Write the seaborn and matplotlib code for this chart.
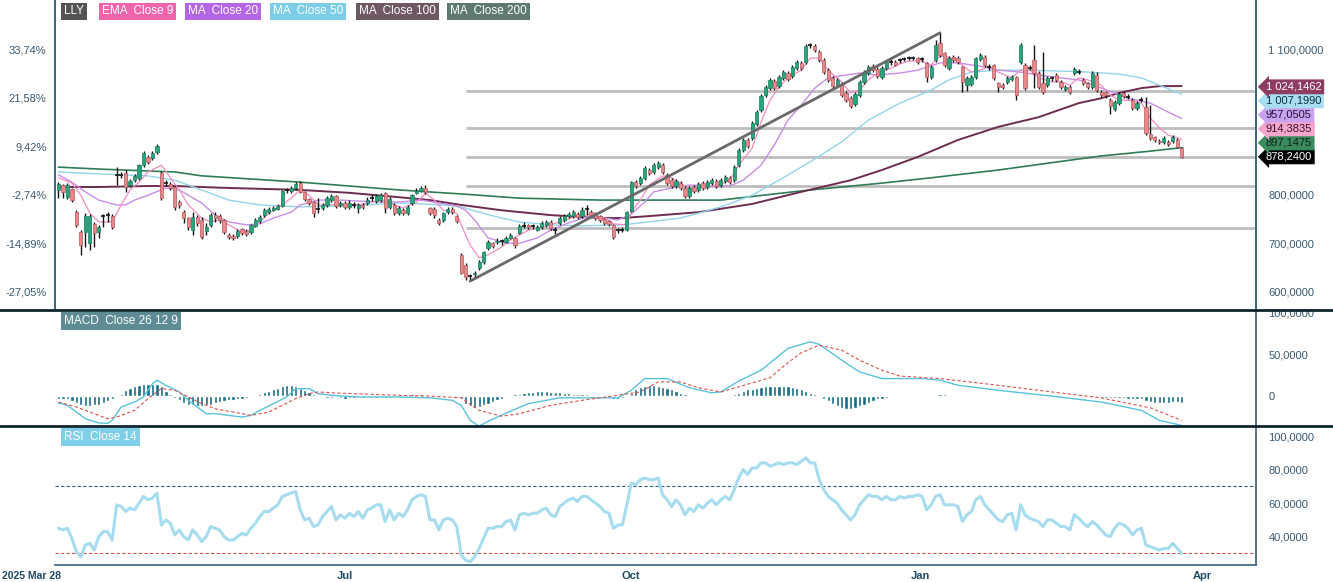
import numpy as np
import matplotlib
matplotlib.use('Agg')
import matplotlib.pyplot as plt
import seaborn as sns
from matplotlib.lines import Line2D

sns.set_theme(style='white')
plt.rcParams['font.family'] = ['Liberation Sans', 'DejaVu Sans']

# ---- daily candles, LLY (one entry per trading day) ----
opens = [809, 820, 796, 812, 764, 723, 723, 701, 740, 723, 755, 758, 756, 840, 841, 845, 820, 830, 834, 861,
         878, 876, 888, 845, 824, 822, 816, 785, 764, 752, 727, 754, 748, 725, 737, 758, 756, 748, 717, 715,
         715, 729, 725, 723, 736, 746, 758, 764, 769, 771, 777, 809, 808, 814, 824, 806, 791, 785, 771, 773,
         779, 789, 797, 779, 783, 775, 778, 773, 779, 783, 793, 787, 789, 803, 775, 779, 762, 768, 762, 783,
         804, 808, 814, 773, 771, 748, 748, 764, 771, 756, 676, 655, 631, 636, 649, 661, 690, 700, 703, 703,
         703, 711, 711, 721, 735, 737, 734, 727, 733, 737, 744, 728, 742, 748, 756, 756, 760, 756, 769, 764,
         762, 756, 750, 746, 738, 726, 727, 727, 766, 826, 824, 835, 851, 847, 857, 861, 841, 830, 818, 824,
         814, 797, 816, 810, 824, 816, 824, 828, 820, 828, 834, 830, 861, 892, 913, 917, 946, 975, 1006, 1020,
         1035, 1024, 1041, 1051, 1045, 1061, 1072, 1074, 1109, 1107, 1094, 1078, 1057, 1041, 1024, 1028, 1010, 999, 987, 1006,
         1033, 1051, 1065, 1060, 1043, 1061, 1073, 1074, 1077, 1079, 1082, 1081, 1082, 1079, 1072, 1043, 1078, 1113, 1092, 1061,
         1084, 1082, 1063, 1026, 1028, 1043, 1080, 1084, 1064, 1068, 1030, 1026, 1033, 1039, 1043, 1074, 1068, 1062, 1078, 1051,
         1030, 1026, 1039, 1047, 1033, 1018, 1022, 1051, 1053, 1037, 1030, 1022, 1047, 1012, 1012, 995, 977, 989, 1010, 1002,
         995, 979, 995, 981, 925, 919, 911, 909, 909, 911, 913, 896]
highs = [826, 822, 824, 814, 768, 727, 762, 760, 744, 737, 761, 764, 760, 857, 846, 851, 832, 842, 864, 890,
         882, 890, 904, 849, 830, 826, 818, 789, 768, 754, 764, 758, 754, 742, 762, 764, 760, 750, 721, 719,
         729, 731, 729, 740, 752, 758, 772, 775, 777, 781, 810, 814, 818, 826, 828, 808, 793, 787, 793, 783,
         797, 801, 799, 787, 787, 789, 785, 783, 783, 795, 801, 801, 803, 806, 795, 783, 777, 773, 779, 801,
         814, 818, 820, 775, 775, 752, 764, 775, 775, 758, 680, 660, 636, 642, 665, 684, 706, 702, 711, 709,
         715, 721, 713, 740, 744, 740, 740, 737, 746, 748, 748, 733, 756, 760, 764, 768, 764, 775, 779, 768,
         764, 758, 752, 748, 740, 731, 733, 766, 828, 830, 839, 859, 855, 865, 870, 865, 845, 834, 832, 828,
         818, 818, 820, 826, 828, 830, 834, 832, 834, 840, 838, 861, 896, 917, 917, 952, 975, 1008, 1026, 1041,
         1039, 1047, 1057, 1055, 1067, 1078, 1076, 1111, 1113, 1110, 1098, 1082, 1061, 1045, 1041, 1032, 1014, 1003, 1012, 1037,
         1057, 1067, 1069, 1064, 1065, 1078, 1080, 1078, 1082, 1084, 1086, 1086, 1084, 1084, 1074, 1068, 1119, 1134, 1094, 1086,
         1088, 1086, 1065, 1045, 1047, 1084, 1092, 1088, 1070, 1070, 1033, 1030, 1045, 1047, 1045, 1113, 1072, 1068, 1109, 1055,
         1094, 1045, 1045, 1051, 1037, 1026, 1026, 1063, 1059, 1041, 1033, 1055, 1053, 1016, 1014, 999, 995, 1012, 1014, 1008,
         999, 993, 1001, 1002, 985, 921, 915, 921, 913, 923, 917, 899]
lows = [793, 793, 792, 785, 733, 676, 692, 686, 692, 711, 733, 744, 729, 820, 835, 806, 815, 826, 830, 858,
        864, 872, 884, 789, 818, 810, 768, 773, 742, 727, 717, 736, 709, 717, 733, 744, 742, 719, 709, 707,
        711, 717, 715, 719, 733, 742, 754, 760, 766, 768, 775, 804, 804, 810, 803, 787, 779, 754, 762, 768,
        775, 785, 773, 775, 771, 771, 773, 762, 771, 779, 787, 783, 785, 762, 771, 758, 758, 758, 758, 779,
        801, 806, 801, 758, 752, 738, 744, 760, 760, 742, 636, 624, 622, 630, 645, 657, 686, 690, 698, 696,
        700, 709, 690, 719, 731, 729, 729, 725, 729, 733, 727, 719, 738, 744, 752, 752, 750, 752, 758, 754,
        748, 744, 738, 736, 709, 721, 723, 725, 764, 814, 820, 831, 841, 843, 853, 843, 820, 814, 814, 810,
        793, 793, 804, 806, 810, 812, 820, 814, 816, 824, 822, 826, 857, 888, 896, 913, 942, 971, 1002, 1016,
        1016, 1020, 1037, 1035, 1041, 1057, 1057, 1070, 1102, 1094, 1074, 1049, 1033, 1020, 1020, 1002, 991, 979, 983, 1002,
        1029, 1047, 1053, 1041, 1039, 1057, 1068, 1065, 1072, 1076, 1078, 1078, 1070, 1074, 1033, 1039, 1074, 1084, 1063, 1057,
        1074, 1070, 1012, 1014, 1024, 1039, 1076, 1063, 1057, 1037, 1012, 1018, 1028, 1035, 995, 1070, 1016, 1057, 1020, 1018,
        1008, 1022, 1035, 1033, 1018, 1014, 1008, 1047, 1049, 1026, 1018, 1018, 1012, 1002, 999, 966, 973, 985, 1000, 997,
        975, 975, 991, 923, 913, 908, 905, 905, 901, 907, 896, 875]
closes = [822.5, 806, 820, 789, 737, 696, 756, 756, 721, 733, 756, 759, 733, 841, 840, 816, 828, 838, 861, 886,
          868, 886, 901, 793, 825, 814, 775, 779, 752, 733, 754, 742, 713, 733, 758, 752, 748, 723, 713, 711,
          725, 721, 719, 738, 748, 754, 768, 771, 773, 777, 808, 810, 814, 822, 806, 791, 783, 762, 770, 779,
          793, 797, 777, 783, 775, 783, 779, 779, 775, 789, 794, 797, 799, 773, 791, 762, 773, 762, 775, 799,
          808, 814, 806, 762, 758, 742, 762, 771, 764, 746, 639, 630, 632, 638, 661, 682, 702, 694, 705, 704,
          711, 717, 696, 735, 736, 733, 735, 733, 742, 744, 731, 727, 752, 756, 760, 764, 754, 769, 770, 758,
          752, 748, 742, 740, 713, 727, 728, 764, 826, 818, 835, 855, 845, 861, 865, 847, 824, 818, 828, 814,
          797, 814, 808, 822, 814, 826, 830, 818, 830, 836, 826, 857, 892, 913, 900, 948, 971, 1004, 1022, 1037,
          1020, 1043, 1053, 1039, 1063, 1074, 1061, 1107, 1108, 1098, 1078, 1053, 1037, 1024, 1037, 1006, 995, 983, 1008, 1033,
          1053, 1063, 1057, 1045, 1061, 1074, 1074, 1068, 1078, 1080, 1082, 1082, 1074, 1080, 1043, 1063, 1109, 1088, 1068, 1082,
          1078, 1074, 1033, 1041, 1043, 1082, 1088, 1068, 1063, 1041, 1022, 1022, 1041, 1043, 1006, 1109, 1020, 1061, 1051, 1022,
          1012, 1041, 1040, 1037, 1022, 1022, 1012, 1059, 1053, 1030, 1022, 1051, 1016, 1006, 1006, 983, 991, 1008, 1004, 1001,
          979, 989, 996, 927, 917, 913, 909, 917, 905, 919, 898, 878.24]

# ---- moving averages (candle index, value) ----
ema9_x = [0, 3, 5, 7, 9, 12, 14, 16, 18, 20, 23, 25, 27, 29, 32, 34, 36, 38, 41, 43, 45, 47, 49, 52, 54, 56, 58,
          61, 64, 67, 71, 73, 75, 77, 80, 82, 84, 86, 89, 90, 92, 94, 96, 99, 101, 103, 105, 109, 112, 115, 119,
          122, 124, 127, 128, 130, 132, 135, 137, 139, 141, 143, 146, 148, 150, 152, 155, 157, 159, 161, 163, 166,
          168, 170, 172, 175, 177, 179, 181, 183, 186, 188, 190, 193, 195, 197, 199, 201, 204, 206, 208, 210, 213,
          215, 217, 219, 222, 224, 226, 228, 230, 233, 235, 237, 239, 242, 244, 246, 248, 251]
ema9_y = [835, 824, 799, 762, 744, 744, 779, 810, 826, 847, 861, 835, 810, 779, 752, 744, 748, 738, 723, 727, 744,
          762, 773, 793, 810, 799, 779, 779, 779, 779, 787, 789, 779, 773, 785, 803, 789, 768, 762, 738, 696, 670,
          676, 692, 707, 717, 727, 736, 744, 754, 760, 752, 740, 738, 764, 789, 820, 839, 835, 824, 812, 814, 818,
          822, 830, 861, 896, 950, 995, 1022, 1041, 1057, 1082, 1082, 1057, 1033, 1010, 1016, 1037, 1051, 1061,
          1070, 1076, 1076, 1068, 1086, 1084, 1074, 1053, 1057, 1065, 1053, 1041, 1057, 1057, 1041, 1033, 1033,
          1026, 1041, 1037, 1026, 1006, 995, 995, 989, 958, 938, 923, 914.3835]
ma20_x = [0, 3, 6, 9, 13, 15, 17, 20, 24, 27, 29, 32, 35, 38, 42, 45, 48, 52, 54, 58, 63, 67, 72, 76, 81, 85, 89,
          91, 93, 96, 100, 103, 107, 110, 114, 118, 122, 125, 128, 131, 133, 137, 141, 146, 150, 153, 157, 160,
          163, 166, 169, 172, 176, 179, 183, 188, 192, 197, 201, 206, 210, 215, 219, 224, 228, 233, 236, 239, 244,
          247, 251]
ma20_y = [841, 826, 806, 789, 779, 779, 789, 799, 814, 810, 799, 783, 758, 744, 738, 740, 752, 764, 779, 789, 789,
          787, 785, 785, 789, 783, 777, 768, 748, 711, 700, 700, 711, 727, 742, 754, 752, 748, 760, 785, 806, 814,
          820, 818, 818, 830, 861, 903, 954, 985, 1020, 1041, 1047, 1051, 1047, 1051, 1057, 1072, 1072, 1065,
          1057, 1053, 1047, 1041, 1037, 1020, 1010, 999, 989, 975, 957.0505]
ma50_x = [0, 9, 20, 26, 32, 38, 45, 54, 65, 76, 86, 90, 94, 99, 103, 110, 117, 126, 132, 139, 143, 148, 155, 161,
          168, 175, 181, 188, 195, 199, 204, 210, 217, 224, 230, 237, 242, 246, 251]
ma50_y = [847, 843, 839, 830, 810, 789, 779, 775, 777, 783, 779, 775, 764, 752, 744, 738, 736, 738, 744, 752, 762,
          775, 799, 830, 868, 909, 954, 989, 1016, 1037, 1053, 1057, 1057, 1055, 1053, 1049, 1041, 1026, 1007.199]
ma100_x = [0, 9, 20, 26, 38, 54, 65, 76, 83, 90, 99, 110, 121, 126, 132, 143, 155, 166, 177, 184, 192, 201, 210,
           219, 228, 233, 237, 242, 246, 251]
ma100_y = [816, 816, 818, 818, 814, 810, 804, 795, 789, 779, 768, 758, 752, 752, 756, 764, 781, 806, 830, 851, 878,
           913, 940, 960, 989, 999, 1010, 1020, 1024, 1024.1462]
ma200_x = [0, 9, 26, 32, 54, 76, 91, 103, 121, 148, 166, 184, 195, 210, 221, 233, 244, 251]
ma200_y = [857, 853, 847, 839, 826, 810, 801, 793, 789, 789, 808, 824, 835, 851, 865, 880, 890, 897.1475]

# ---- MACD 26 12 9 ----
macd_hist = [-3, -3, -4, -6, -8, -10, -12, -12, -11, -10, -8, -6, -4, -1, 3, 7, 10, 12, 13, 14, 15, 15, 14,
             12, 6, 2, -2, -5, -8, -10, -11, -12, -12, -11, -10, -8, -7, -6, -5, -5, -4, -3, -2, -1,
             1, 3, 5, 6, 8, 10, 12, 13, 13, 12, 10, 7, 5, 3, 1,
             -1, -2, -2, -1, -2, -3, -2, -2, -1, -2, -1, -1, -2, -1, -2, -2, -1, -1,
             1, 1, 2, 2, 2, 1, 0, -1, -1, -1, -1, -1, -2,
             -4, -9, -12, -14, -13, -11, -9, -7, -5, -3, -1,
             1, 2, 3, 4, 5, 5, 6, 6, 6, 5, 5, 5, 4, 4, 3,
             3, 2, 2, 1, 0, -1, -1, -2, -3, -3, -2, 0,
             4, 8, 11, 12, 13, 13, 12, 11, 10, 8, 6, 4, 2,
             1, 0, -1, -1, -1, -1, 0, 0, 0, 1,
             2, 4, 6, 8, 9, 10, 11, 12, 12, 12, 12, 12, 12, 11, 10, 8, 6, 4, 2, 0,
             -3, -6, -9, -12, -14, -15, -15, -14, -12, -10, -8, -6,
             -4, -3, -2, -1, 0, 1, 1, 1, 1, 1, 1, 0, 0,
             1, 2, 2, 1, 1, 0, -1, -1, -1, 0, 0, 1, 1, 1, 0, 0, -1, -1, -1, 0,
             0, 1, 0, 0, -1, -1, -1, 0, 0, 0, -1, -1, 0, 0, -1, -1, -2, -2, -2, -2,
             -2, -2, -2, -3, -3, -3, -4, -6, -7, -8, -8, -8, -8, -7, -7, -8]
macd_x = [0, 2, 4, 6, 9, 11, 12, 14, 17, 19, 21, 22, 24, 27, 29, 32, 33, 35, 38, 41, 43, 45, 48, 51, 53, 56, 58,
          61, 67, 76, 83, 88, 90, 92, 94, 96, 101, 105, 112, 121, 125, 128, 131, 136, 141, 146, 148, 152, 157, 163,
          168, 170, 175, 179, 184, 188, 193, 197, 201, 210, 222, 233, 242, 246, 251]
macd_y = [-8, -11, -19, -27, -32, -32.5, -29, -13, -7, -1, 15, 19, 13, 5, -5, -17, -21, -21, -23, -25, -23, -17,
          -9, -1, 9, 9, 3, 1, -1, -1, -2, -5, -11, -29, -36, -30, -18, -9, -2, -2, -2, 7, 21, 21, 10, 4, 5, 18,
          31, 57, 65, 62, 43, 29, 21, 21, 21, 19, 13, 7, 0, -7, -17, -29, -35]
signal_x = [0, 4, 8, 11, 13, 17, 20, 23, 26, 29, 32, 35, 39, 43, 47, 50, 53, 56, 58, 61, 76, 83, 90, 94, 99, 103,
            110, 117, 121, 130, 134, 139, 143, 148, 159, 163, 166, 170, 175, 179, 184, 188, 197, 210, 222, 233,
            244, 251]
signal_y = [-7, -13, -21, -27, -25, -17, -3, 9, 7, -1, -9, -15, -19, -23, -19, -11, -3, 3, 5, 4, 1, 0, -2, -17,
            -24, -21, -11, -5, -2, 5, 17, 17, 10, 5, 22, 40, 52, 61, 55, 43, 31, 24, 21, 13, 5, -2, -14, -29]

# ---- RSI 14 ----
rsi = [45, 44, 45, 39, 31, 28, 35, 36, 32, 40, 43, 43, 38, 59, 58, 55, 57, 56, 60, 64, 62, 63, 66, 47, 50, 48, 41,
       44, 40, 38, 44, 41, 37, 40, 46, 45, 44, 40, 38, 38, 40, 42, 41, 45, 48, 52, 55, 55, 57, 59, 64, 65, 66, 67,
       56, 50, 51, 46, 47, 52, 55, 58, 50, 53, 51, 54, 52, 55, 51, 56, 57, 59, 59, 49, 56, 50, 54, 52, 56, 62,
       64, 65, 64, 50, 50, 44, 50, 51, 50, 46,
       29, 26, 25, 28, 33, 39, 45, 45, 46, 46, 49, 50, 44, 53, 54, 53, 54, 54, 56, 57, 53, 52, 58, 60, 62, 63,
       61, 64, 64, 62, 60, 58, 55, 54, 45, 47, 47, 59, 72, 71,
       74, 75, 74, 74, 75, 65, 62, 58, 62, 59, 53, 57, 55, 59, 57, 60, 62, 59, 62, 64, 62, 68, 75, 80, 77, 81,
       81, 84, 84, 82, 83, 84, 83, 84, 84, 83, 85, 87, 84, 84, 74, 68, 64, 62, 60, 56, 53, 50, 53, 59, 62, 65,
       64, 64,
       62, 64, 62, 62, 64, 63, 64, 64, 65, 64, 56, 59, 64, 65, 59, 59, 59, 58, 49, 53, 55, 62, 64, 59, 56, 53,
       50, 49, 53, 54, 44, 59, 53, 51, 50, 49, 46, 50, 50, 48, 46, 46, 44, 53, 51, 48, 46, 49, 47, 44, 41, 40,
       45, 48, 47, 45, 41, 44, 45, 35, 34, 33, 32, 33, 33, 36, 33, 30]

# x axis: ticks sit on trading-day positions
tick_pos = [1.4, 64.1, 127.9, 192.7, 255.5]
tick_labels = ['2025 Mar 28', 'Jul', 'Oct', 'Jan', 'Apr']
minor_pos = [34.3, 96.2, 159.9, 221.8]
fib_ratios = [0.236, 0.382, 0.5, 0.618, 0.786]

legend_names = ['LLY', 'EMA  Close 9', 'MA  Close 20', 'MA  Close 50', 'MA  Close 100', 'MA  Close 200']
legend_colors = ['#545454', '#f165ad', '#b566e6', '#7ccde8', '#6f5864', '#5f7b6f']

C_EMA9, C_MA20, C_MA50, C_MA100, C_MA200 = '#f48cc2', '#c98de8', '#92d5ea', '#6e2d4e', '#2f7c57'
AXC = '#3d6680'
LBL = '#3a5a72'
NARROW = ['Liberation Sans Narrow', 'Liberation Sans', 'DejaVu Sans']


def fmt_num(v):
    if v == 0:
        return '0'
    return f'{v:,.4f}'.replace(',', ' ').replace('.', ',')


W, H = 1333, 582
fig = plt.figure(figsize=(W / 100, H / 100), dpi=100)
fig.patch.set_facecolor('white')


def box(x0, y0, x1, y1):
    return [x0 / W, 1 - y1 / H, (x1 - x0) / W, (y1 - y0) / H]


ax = fig.add_axes(box(55, 0, 1256, 310))
ax_m = fig.add_axes(box(55, 310, 1256, 426), sharex=ax)
ax_r = fig.add_axes(box(55, 426, 1256, 565), sharex=ax)

o, h, l, c = map(np.array, (opens, highs, lows, closes))
n = len(c)
idx = np.arange(n)

# ---- candles ----
ax.vlines(idx, l, h, color='#151515', lw=1.0, zorder=3)
doji = np.abs(c - o) < 1.6
up = (c > o) & ~doji
dn = (c < o) & ~doji
ax.bar(idx[up], (c - o)[up], bottom=o[up], width=0.72, color='#27a57c', edgecolor='#1d7a5c', lw=0.5, zorder=4)
ax.bar(idx[dn], (o - c)[dn], bottom=c[dn], width=0.72, color='#e8888b', edgecolor='#b4595c', lw=0.5, zorder=4)
ax.hlines(c[doji], idx[doji] - 0.45, idx[doji] + 0.45, color='#151515', lw=1.2, zorder=4)

# ---- moving averages ----
for xs, ys, col, lw in [(ma200_x, ma200_y, C_MA200, 1.2), (ma100_x, ma100_y, C_MA100, 1.4),
                        (ma50_x, ma50_y, C_MA50, 1.0), (ma20_x, ma20_y, C_MA20, 1.0),
                        (ema9_x, ema9_y, C_EMA9, 0.9)]:
    sns.lineplot(x=xs, y=ys, ax=ax, color=col, lw=lw, estimator=None, sort=False, zorder=2)

# ---- fibonacci retracement + trend line ----
i_lo, i_hi = int(np.argmin(l)), int(np.argmax(h))
lo, hi = l[i_lo], h[i_hi]
x_end = 267.6
for r in fib_ratios:
    ax.hlines(hi - r * (hi - lo), i_lo - 1, x_end, color='#bdbdbd', lw=2, zorder=1)
ax.plot([i_lo, i_hi], [lo, hi], color='#696969', lw=2, zorder=5, solid_capstyle='round')

ax.set_xlim(-0.78, x_end)
ax.set_ylim(562.3, 1201.7)

base = c[0]
price_ticks = [600, 700, 800, 900, 1000, 1100]
ax.set_yticks(price_ticks)
ax.set_yticklabels([f'{(p / base - 1) * 100:.2f}%'.replace('.', ',') for p in price_ticks])
ax.tick_params(axis='y', length=0, pad=6, labelsize=8, labelcolor=LBL)

axr = ax.twinx()
axr.set_ylim(ax.get_ylim())
right_ticks = [600, 700, 800, 1100]
axr.set_yticks(right_ticks)
axr.set_yticklabels([fmt_num(p) for p in right_ticks])
axr.tick_params(axis='y', length=0, pad=9, labelsize=8, labelcolor=LBL)

for a in (ax, axr):
    for s in ('top', 'bottom'):
        a.spines[s].set_visible(False)
    a.spines['left'].set_color(AXC)
    a.spines['right'].set_color(AXC)

# ---- last value tags on the right ----
tag_vals = [c[-1], ma200_y[-1], ema9_y[-1], ma20_y[-1], ma50_y[-1], ma100_y[-1]]
tag_bg = ['#000000', '#3a8c5f', '#f5a6cb', '#c9a2f0', '#a9def2', '#8e3c62']
tag_fg = ['white', '#102018', '#3a1028', '#201035', '#10303d', 'white']
step = 14 * (1201.7 - 562.3) / 310
for k, (v, bg, fg) in enumerate(zip(tag_vals, tag_bg, tag_fg)):
    ax.annotate(fmt_num(v), xy=(1.0, c[-1] + k * step), xycoords=('axes fraction', 'data'),
                xytext=(10, 0), textcoords='offset pixels', va='center', ha='left',
                fontsize=8, color=fg, zorder=10, annotation_clip=False,
                bbox=dict(boxstyle='larrow,pad=0.22', fc=bg, ec='none'))

# ---- MACD panel ----
ax_m.bar(idx, macd_hist, width=0.72, color='#186c83', zorder=2)
sns.lineplot(x=macd_x, y=macd_y, ax=ax_m, color='#59c2dd', lw=1.0, estimator=None, sort=False, zorder=3)
sns.lineplot(x=signal_x, y=signal_y, ax=ax_m, color='#d9534f', lw=0.8, estimator=None, sort=False, zorder=3)
ax_m.lines[-1].set_linestyle((0, (3, 2)))
ax_m.set_ylim(-35.7, 103)
ax_m.yaxis.tick_right()
ax_m.set_yticks([0, 50, 100])
ax_m.set_yticklabels([fmt_num(v) for v in [0, 50, 100]])
ax_m.tick_params(axis='y', length=0, pad=9, labelsize=8, labelcolor=LBL)

# ---- RSI panel ----
sns.lineplot(x=idx, y=rsi, ax=ax_r, color='#a6dcef', lw=2.2, estimator=None, zorder=3)
ax_r.axhline(70, color='#2c5f7c', lw=0.8, ls=(0, (3, 2)))
ax_r.axhline(30, color='#d9534f', lw=0.8, ls=(0, (3, 2)))
ax_r.set_ylim(23.1, 106)
ax_r.yaxis.tick_right()
ax_r.set_yticks([40, 60, 80, 100])
ax_r.set_yticklabels([fmt_num(v) for v in [40, 60, 80, 100]])
ax_r.tick_params(axis='y', length=0, pad=9, labelsize=8, labelcolor=LBL)

ax_r.set_xticks(tick_pos)
ax_r.set_xticklabels([''] + tick_labels[1:])
ax_r.set_xticks(minor_pos, minor=True)
ax_r.tick_params(axis='x', which='major', direction='out', length=4, width=1, color=AXC, pad=0.5,
                 labelsize=8, labelcolor='#1f4a66')
ax_r.tick_params(axis='x', which='minor', direction='out', length=5, width=1.5, color='#d9534f')
for a in (ax, ax_m):
    a.tick_params(axis='x', which='both', bottom=False, top=False, labelbottom=False)
for t in ax_r.get_xticklabels():
    t.set_fontweight('bold')
    t.set_family(NARROW)
fig.text(2 / W, 1 - 576 / H, tick_labels[0], ha='left', va='center', fontsize=7.5,
         fontweight='bold', color='#1f4a66', family=NARROW)

for a in (ax_m, ax_r):
    a.set_xlabel('')
    a.set_ylabel('')
    a.spines['top'].set_visible(False)
    a.spines['left'].set_visible(False)
    a.spines['right'].set_color(AXC)
ax_m.spines['bottom'].set_visible(False)
ax_r.spines['bottom'].set_color(AXC)
ax.set_xlabel('')
ax.set_ylabel('')

# panel separators
for yp in (310, 426):
    fig.add_artist(Line2D([0, 1], [1 - yp / H, 1 - yp / H], transform=fig.transFigure, color='#10252f', lw=2))

# ---- indicator labels ----
legend_x = [60, 98, 184, 269, 355, 446]
for name, col, xp in zip(legend_names, legend_colors, legend_x):
    fig.text((xp + 4) / W, 1 - 11.5 / H, name, fontsize=8.5, color='white', va='center', ha='left',
             bbox=dict(boxstyle='square,pad=0.25', fc=col, ec='none'))
fig.text(64 / W, 1 - 321 / H, 'MACD  Close 26 12 9', fontsize=8.5, color='white', va='center', ha='left',
         bbox=dict(boxstyle='square,pad=0.25', fc='#5d8c94', ec='none'))
fig.text(64 / W, 1 - 437 / H, 'RSI  Close 14', fontsize=8.5, color='white', va='center', ha='left',
         bbox=dict(boxstyle='square,pad=0.25', fc='#7fcfe8', ec='none'))

fig.savefig('out.png', dpi=100, facecolor='white')
